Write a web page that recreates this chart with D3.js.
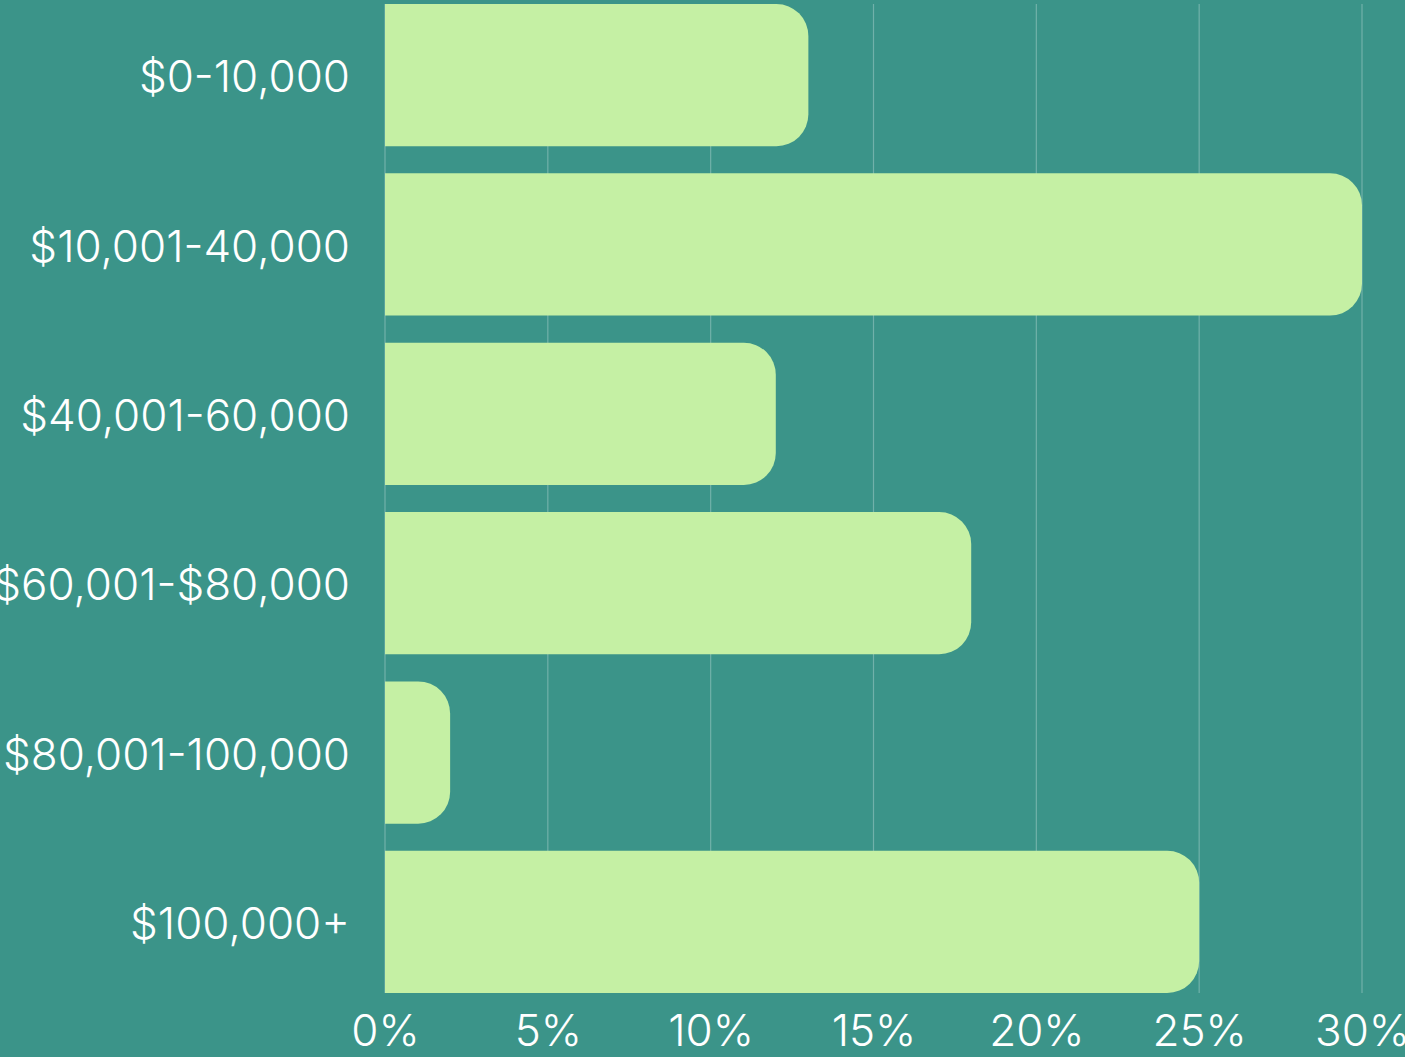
<!DOCTYPE html>
<html>
  <head>
    <title>Income bracket share</title>
  </head>
  <body>
    <style>
      body, html { margin: 0; padding: 0; background: #3b9489; }
      svg { display: block; }
      svg text { font-family: Inter, Lato, sans-serif; font-weight: 300; fill: #ffffff; }
    </style>

    <svg id="svg" width="1405" height="1057"></svg>

    <script src="https://cdn.jsdelivr.net/npm/d3@7"></script>
    <script>
      const categories = ['$0-10,000', '$10,001-40,000', '$40,001-60,000', '$60,001-$80,000', '$80,001-100,000', '$100,000+'];
      const values = [13, 30, 12, 18, 2, 25];
      const ticks = [0, 5, 10, 15, 20, 25, 30];

      const svg = d3.select('#svg');
      const plotLeft = 385, plotRight = 1362, plotTop = 4, plotBottom = 993;
      const radius = 32;

      const xscale = d3.scaleLinear().domain([0, 30]).range([plotLeft, plotRight]);
      const yscale = d3.scaleBand().domain(categories).range([plotTop, plotBottom]).paddingInner(0.16).paddingOuter(0);

      // gridlines
      svg.append('g')
        .selectAll('line')
        .data(ticks)
        .join('line')
        .attr('x1', d => xscale(d)).attr('x2', d => xscale(d))
        .attr('y1', plotTop).attr('y2', plotBottom)
        .attr('stroke', 'rgba(255,255,255,0.28)')
        .attr('stroke-width', 1.2);

      // bars, rounded on the right only
      function barPath(d, i) {
        const x0 = xscale(0), x1 = xscale(d);
        const y0 = yscale(categories[i]), h = yscale.bandwidth();
        const r = Math.min(radius, (x1 - x0) / 2, h / 2);
        return `M${x0},${y0}H${x1 - r}A${r},${r} 0 0 1 ${x1},${y0 + r}V${y0 + h - r}A${r},${r} 0 0 1 ${x1 - r},${y0 + h}H${x0}Z`;
      }
      svg.append('g')
        .selectAll('path')
        .data(values)
        .join('path')
        .attr('d', barPath)
        .attr('fill', '#c5f0a4');

      // y labels
      const yAxis = d3.axisLeft(yscale).tickSize(0).tickPadding(35);
      svg.append('g')
        .attr('transform', `translate(${plotLeft},3)`)
        .call(yAxis)
        .call(g => g.select('.domain').remove())
        .selectAll('text')
        .attr('font-size', 44)
        .attr('font-family', null)
        .attr('fill', null);

      // x labels
      const xAxis = d3.axisBottom(xscale).tickValues(ticks).tickFormat(d => d + '%').tickSize(0).tickPadding(22);
      svg.append('g')
        .attr('transform', `translate(0,${plotBottom})`)
        .call(xAxis)
        .call(g => g.select('.domain').remove())
        .selectAll('text')
        .attr('font-size', 44)
        .attr('font-family', null)
        .attr('fill', null);
    </script>
  </body>
</html>
